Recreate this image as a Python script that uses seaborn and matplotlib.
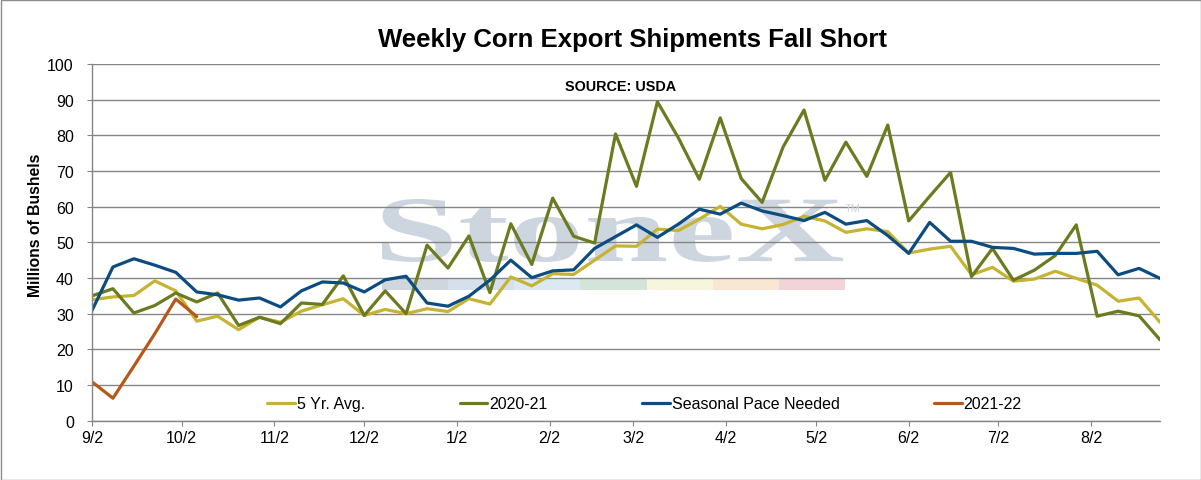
import pandas as pd
import matplotlib
matplotlib.use("Agg")
import matplotlib.pyplot as plt
import seaborn as sns
from matplotlib.textpath import TextPath
from matplotlib.patches import PathPatch, Rectangle
from matplotlib.font_manager import FontProperties
from matplotlib.transforms import Affine2D

# ---------- Data (millions of bushels, weekly from 9/2) ----------
start_date = "2021-09-02"
n_weeks = 52

five_yr_avg = [33.9, 34.7, 35.1, 39.2, 36.4, 27.9, 29.3, 25.5, 29.0, 27.6,
               30.7, 32.5, 34.2, 29.5, 31.2, 30.0, 31.4, 30.6, 34.2, 32.7,
               40.3, 37.8, 41.2, 41.0, 45.0, 49.0, 48.9, 53.7, 53.3, 56.5,
               60.1, 55.1, 53.8, 55.0, 57.3, 56.0, 52.8, 53.8, 53.0, 47.0,
               48.1, 48.9, 40.9, 43.0, 39.1, 39.7, 41.9, 39.9, 38.0, 33.5,
               34.4, 27.6]
season_2020_21 = [35.0, 37.0, 30.2, 32.3, 35.8, 33.3, 35.8, 26.7, 29.0, 27.2,
                  33.0, 32.6, 40.6, 29.5, 36.4, 30.0, 49.2, 42.8, 51.8, 35.9,
                  55.2, 43.8, 62.4, 51.7, 49.8, 80.4, 65.7, 89.4, 79.3, 67.7,
                  84.9, 67.9, 61.2, 76.7, 87.1, 67.4, 78.1, 68.5, 82.9, 56.0,
                  62.9, 69.6, 40.4, 48.3, 39.4, 42.2, 46.3, 54.9, 29.3, 30.7,
                  29.4, 22.7]
seasonal_pace = [30.9, 43.1, 45.4, 43.6, 41.6, 36.1, 35.3, 33.8, 34.4, 31.9,
                 36.4, 38.9, 38.6, 36.1, 39.5, 40.5, 33.0, 32.1, 34.9, 39.4,
                 45.0, 40.1, 42.0, 42.3, 48.3, 51.6, 54.9, 51.4, 55.1, 59.3,
                 57.9, 61.0, 58.8, 57.5, 56.1, 58.4, 55.1, 56.1, 51.9, 46.9,
                 55.6, 50.3, 50.3, 48.6, 48.3, 46.7, 46.9, 46.9, 47.5, 40.9,
                 42.7, 39.9]
season_2021_22 = [10.9, 6.3, 15.3, 24.4, 34.1, 29.2]

series_names = ["5 Yr. Avg.", "2020-21", "Seasonal Pace Needed", "2021-22"]
series_colors = ["#c6b332", "#6b7b1f", "#0c4c80", "#b8571b"]
tick_labels = ["9/2", "10/2", "11/2", "12/2", "1/2", "2/2", "3/2", "4/2",
               "5/2", "6/2", "7/2", "8/2"]

dates = pd.date_range(start_date, periods=n_weeks, freq="7D")
frames = []
for name, vals in zip(series_names,
                      [five_yr_avg, season_2020_21, seasonal_pace, season_2021_22]):
    frames.append(pd.DataFrame({"date": dates[:len(vals)], "value": vals, "series": name}))
df = pd.concat(frames, ignore_index=True)

tick_dates = [pd.Timestamp(year=2021 if int(t.split("/")[0]) >= 9 else 2022,
                           month=int(t.split("/")[0]), day=int(t.split("/")[1]))
              for t in tick_labels]

# ---------- Plot ----------
sns.set_style("white")
plt.rcParams["font.family"] = ["Liberation Sans", "DejaVu Sans"]
plt.rcParams.update({"text.color": "black", "axes.labelcolor": "black",
                     "xtick.labelcolor": "black", "ytick.labelcolor": "black"})

fig = plt.figure(figsize=(12.01, 4.81), dpi=100)
ax = fig.add_axes([92 / 1201, 1 - 421.7 / 481, (1160 - 92) / 1201, (421.7 - 65) / 481])

grid_col = "#868686"
ax.set_axisbelow(True)
ax.yaxis.grid(True, color=grid_col, lw=1.0)
ax.xaxis.grid(False)

sns.lineplot(data=df, x="date", y="value", hue="series", hue_order=series_names,
             palette=series_colors, lw=2.3, ax=ax, legend=True, sort=False)

ax.set_xlim(dates[0], dates[-1])
ax.set_ylim(0, 100)
ax.set_yticks(range(0, 101, 10))
ax.set_xticks(tick_dates)
ax.set_xticklabels(tick_labels)
ax.set_xlabel("")
ax.set_ylabel("")
ax.tick_params(axis="y", direction="out", length=3.6, width=0.8, color=grid_col,
               pad=9.5, labelsize=11.5, left=True, labelcolor="black")
ax.tick_params(axis="x", direction="out", length=3.6, width=0.8, color=grid_col,
               pad=3, labelsize=11.5, bottom=True, labelcolor="black")
for s in ["top", "right"]:
    ax.spines[s].set_visible(False)
for s in ["left", "bottom"]:
    ax.spines[s].set_color(grid_col)
    ax.spines[s].set_linewidth(1.0)

handles, labels = ax.get_legend_handles_labels()
for h in handles:
    h.set_linewidth(2.3)
leg = ax.legend(handles, labels, ncol=4, frameon=False, loc="center",
                bbox_to_anchor=(644.5 / 1201, 1 - 405 / 481), bbox_transform=fig.transFigure,
                fontsize=11.5, handlelength=1.75, handletextpad=0.12, columnspacing=5.9)
for t in leg.get_texts():
    t.set_color("black")

# watermark
tp = TextPath((0, 0), "StoneX", size=100,
              prop=FontProperties(family="Liberation Serif", weight="bold"))
ext = tp.get_extents()
fx0, fx1 = 382 / 1201, 843 / 1201
fy0, fy1 = 1 - 263 / 481, 1 - 200 / 481
tr = (Affine2D().translate(-ext.x0, -ext.y0)
      .scale((fx1 - fx0) / ext.width, (fy1 - fy0) / ext.height)
      .translate(fx0, fy0) + fig.transFigure)
ax.add_patch(PathPatch(tp, transform=tr, facecolor="#cdd5df", edgecolor="none",
                       zorder=0.2, clip_on=False))
fig.text(853 / 1201, 1 - 209 / 481, "TM", color="#cdd5df", fontsize=8, ha="center", va="center")
bar_cols = ["#d0d6de", "#d6e0ea", "#dce9f3", "#d3e4da", "#f6f5dd", "#f9e6d3", "#f2d4d8"]
seg_w = (845 - 382) / 7
for k, c in enumerate(bar_cols):
    ax.add_patch(Rectangle(((382 + k * seg_w) / 1201, 1 - 291 / 481), seg_w / 1201, 11 / 481,
                           transform=fig.transFigure, facecolor=c, edgecolor="none",
                           zorder=0.2, clip_on=False))

# titles and labels
fig.text(632 / 1201, 1 - 47 / 481, "Weekly Corn Export Shipments Fall Short",
         fontsize=18.5, fontweight="bold", ha="center", va="baseline")
fig.text(621 / 1201, 1 - 90.7 / 481, "SOURCE: USDA", fontsize=10.4, fontweight="bold",
         ha="center", va="baseline")
fig.text(36 / 1201, 1 - 225.5 / 481, "Millions of Bushels", fontsize=11.3, fontweight="bold",
         rotation=90, ha="center", va="center")

# chart border
fig.add_artist(Rectangle((0.5 / 1201, 0.5 / 481), 1 - 1 / 1201, 1 - 1 / 481,
                         transform=fig.transFigure, fill=False, edgecolor="#8c8c8c", lw=1.0))

fig.savefig("out.png", dpi=100)
